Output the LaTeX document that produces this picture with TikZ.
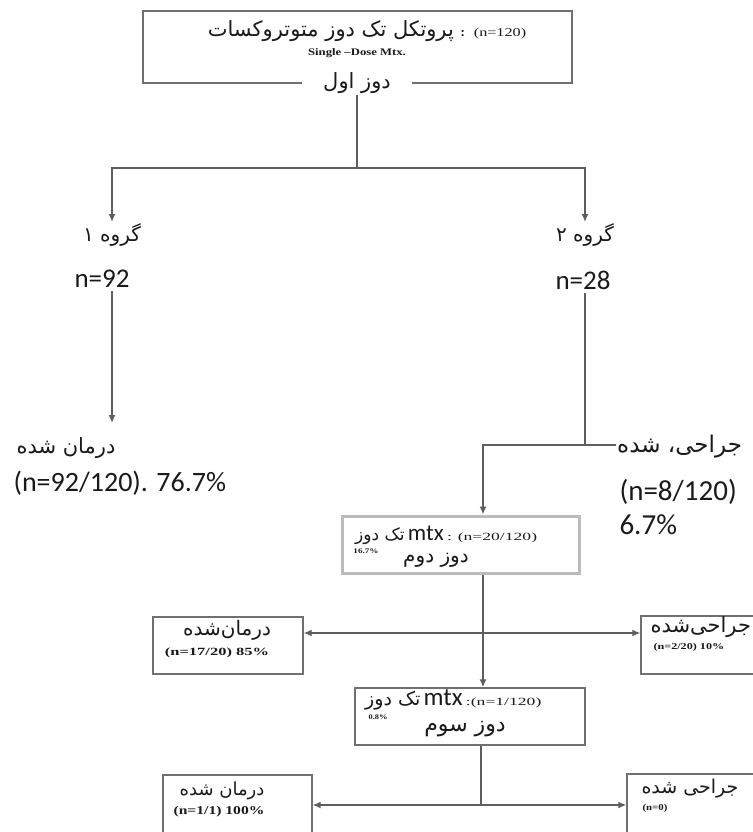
\documentclass[tikz,border=0pt]{standalone}
\usepackage{fontspec}
\usepackage{graphicx}
\usetikzlibrary{arrows.meta}
\TeXXeTstate=1
\newfontfamily\fa[Script=Arabic]{DejaVu Sans}
\newfontfamily\calib{Carlito}
\newfontfamily\tnr{Liberation Serif}
\definecolor{linegray}{HTML}{5E5E5E}
\definecolor{boxgray}{HTML}{707070}
\definecolor{lightbox}{HTML}{BBBBBB}
\definecolor{txt}{HTML}{1A1A1A}
\tikzset{
  line/.style={draw=linegray, line width=1.4pt},
  arr/.style={line, -{Latex[length=8pt,width=7pt]}},
  arrtwo/.style={line, {Latex[length=8pt,width=7pt]}-{Latex[length=8pt,width=7pt]}},
  box/.style={draw=boxgray, line width=1.4pt, inner sep=0pt, fill=white},
  fatext/.style={text=txt, font=\fa\fontsize{#1}{#1}\selectfont},
  latin/.style={text=txt, font=\calib\fontsize{#1}{#1}\selectfont},
  serif/.style={text=txt, font=\tnr\bfseries\fontsize{#1}{#1}\selectfont},
}
\begin{document}
\begin{tikzpicture}[x=1pt,y=-1pt]
\useasboundingbox (0,0) rectangle (752,832);
% ---------- top box ----------
\node[box, minimum width=429pt, minimum height=72pt] (topbox) at (357.5,47) {};
\node[fatext=21] (t1) at (367,31) {\beginR پروتکل تک دوز متوتروکسات\endR\ {\tnr\bfseries\fontsize{13}{13}\selectfont:} {\tnr\fontsize{12}{12}\selectfont\scalebox{1.35}[1]{(n=120)}}};
\node[serif=10] (t2) at (357,53) {\scalebox{1.27}[1]{Single –Dose Mtx.}};
\node[fill=white, minimum width=110pt, inner ysep=1pt, fatext=21] (dose1) at (357,83) {\beginR دوز اول\endR};
\coordinate (split) at (357,168);
\draw[line] (dose1.south) -- (split);
% ---------- groups ----------
\node[anchor=north, inner sep=1pt, fatext=20] (g1) at (112,222) {\beginR گروه ۱\endR};
\node[anchor=north, inner sep=1pt, fatext=20] (g2) at (585,222) {\beginR گروه ۲\endR};
\draw[arr] (split) -| (g1.north);
\draw[arr] (split) -| (g2.north);
\node[latin=27] (n92) at (102,279) {n=92};
\node[latin=27] (n28) at (583,280) {n=28};
% ---------- left branch ----------
\coordinate (tip1) at (112,423);
\draw[arr] (n92.south -| g1) -- (tip1);
\node[anchor=west, fatext=21] (done1a) at (13,448) {\beginR درمان شده\endR};
\node[anchor=west, latin=28] (done1b) at (10,483) {(n=92/120). 76.7\%};
% ---------- right branch ----------
\node[anchor=west, inner sep=1pt, fatext=23] (surg1a) at (616,447) {\beginR جراحی، شده\endR};
\node[anchor=west, latin=29] (surg1b) at (616,492) {(n=8/120)};
\node[anchor=west, latin=29] (surg1c) at (616,525) {6.7\%};
\coordinate (j1) at (585,445);
\coordinate (j2) at (483,445);
\draw[line] (n28.south -| g2) -- (j1);
% ---------- box 2 ----------
\node[draw=lightbox, line width=3pt, fill=white, minimum width=237pt, minimum height=57pt, inner sep=0pt] (box2) at (460.5,544.5) {};
\draw[arr] (j1 -| surg1a.west) -- (j2) -- (j2 |- box2.north);
\node[inner sep=0pt, anchor=west] (b2l1) at (355,535) {{\fa\fontsize{17}{17}\selectfont\color{txt}\beginR تک دوز\endR}\ {\calib\fontsize{23}{23}\selectfont\color{txt}mtx}\ {\tnr\fontsize{11}{11}\selectfont\color{txt}\scalebox{1.6}[1]{: (n=20/120)}}};
\node[serif=7] (b2p) at (366,551) {\scalebox{1.3}[1]{16.7\%}};
\node[fatext=20] (b2l2) at (436,560) {\beginR دوز دوم\endR};
% ---------- level 2 outcome boxes ----------
\node[box, minimum width=150pt, minimum height=57pt] (lbox2) at (228,645.5) {};
\node[box, minimum width=139pt, minimum height=58pt] (rbox2) at (710.5,645) {};
\node[fatext=20] (lb2a) at (227,630) {\beginR درمان‌شده\endR};
\node[serif=11] (lb2b) at (217,653) {\scalebox{1.5}[1]{(n=17/20) 85\%}};
\node[anchor=west, fatext=21] (rb2a) at (647,627) {\beginR جراحی‌شده\endR};
\node[anchor=west, serif=9] (rb2b) at (650,647) {\scalebox{1.35}[1]{(n=2/20) 10\%}};
% ---------- box 3 ----------
\node[box, minimum width=230pt, minimum height=57pt] (box3) at (470,716.5) {};
\coordinate (j3) at (483,633);
\draw[arr] (box2.south -| j2) -- (box3.north -| j2);
\draw[arrtwo] (lbox2.east |- j3) -- (rbox2.west |- j3);
\node[inner sep=0pt, anchor=west] (b3l1) at (365,700) {{\fa\fontsize{19}{19}\selectfont\color{txt}\beginR تک دوز\endR}\ {\calib\fontsize{25}{25}\selectfont\color{txt}mtx}\ {\tnr\fontsize{11}{11}\selectfont\color{txt}\scalebox{1.6}[1]{:(n=1/120)}}};
\node[serif=7] (b3p) at (378,717) {\scalebox{1.2}[1]{0.8\%}};
\node[fatext=22] (b3l2) at (465,729) {\beginR دوز سوم\endR};
% ---------- level 3 outcome boxes ----------
\node[box, minimum width=149pt, minimum height=76pt] (lbox3) at (237.5,813) {};
\node[box, minimum width=153pt, minimum height=76pt] (rbox3) at (703.5,812) {};
\coordinate (j4) at (481,805);
\draw[line] (box3.south -| j4) -- (j4);
\draw[arrtwo] (lbox3.east |- j4) -- (rbox3.west |- j4);
\node[fatext=18] (lb3a) at (222,791) {\beginR درمان شده\endR};
\node[serif=12] (lb3b) at (219,812) {\scalebox{1.3}[1]{(n=1/1) 100\%}};
\node[fatext=19] (rb3a) at (690,789) {\beginR جراحی شده\endR};
\node[serif=9] (rb3b) at (655,808) {\scalebox{1.2}[1]{(n=0)}};
\end{tikzpicture}
\end{document}
